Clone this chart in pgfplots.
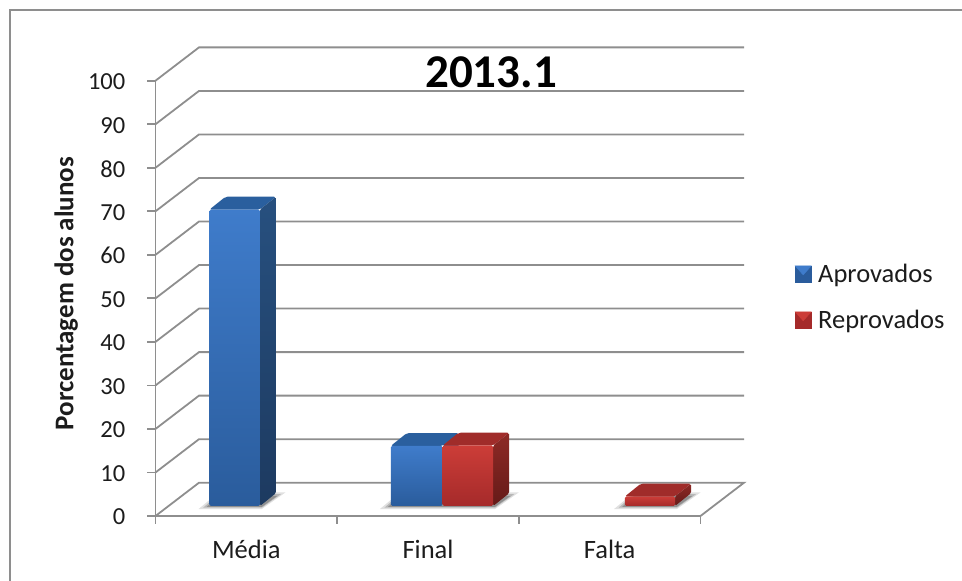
\documentclass[border=0pt]{standalone}
\usepackage{pgfplots}
\pgfplotsset{compat=1.18}
\usepackage{fontspec}
\setmainfont{Carlito}
\definecolor{gridgray}{HTML}{8E8E8E}
\definecolor{txt}{HTML}{1C1C1C}
\definecolor{bft}{HTML}{3F7CCB}\definecolor{bfb}{HTML}{2A5C9C}
\definecolor{bst}{HTML}{27507F}\definecolor{bsb}{HTML}{1D3A60}
\definecolor{btp}{HTML}{2A5F9E}
\definecolor{rft}{HTML}{CC3D38}\definecolor{rfb}{HTML}{A52A2A}
\definecolor{rst}{HTML}{8E2A26}\definecolor{rsb}{HTML}{651A18}
\definecolor{rtp}{HTML}{A02C2A}
% bar: left, right, value, front top, front bottom, side top, side bottom, top
\newcommand{\threedbar}[8]{%
  \pgfmathsetmacro{\yb}{2.3}%
  \pgfmathsetmacro{\yt}{2.3+#3}%
  \pgfmathsetmacro{\xc}{#2+0.088}%
  \pgfmathsetmacro{\xd}{#1+0.088}%
  \pgfmathsetmacro{\ybb}{\yb+2.94}%
  \pgfmathsetmacro{\ytb}{\yt+2.94}%
  \addplot[draw=none,fill=#8,rounded corners=2pt,forget plot] coordinates {(#1,\yt) (#2,\yt) (\xc,\ytb) (\xd,\ytb)} --cycle;
  \addplot[draw=none,top color=#6,bottom color=#7,rounded corners=1.5pt,forget plot] coordinates {(#2,\yb) (\xc,\ybb) (\xc,\ytb) (#2,\yt)} --cycle;
  \addplot[draw=none,top color=#4,bottom color=#5,rounded corners=1.5pt,forget plot] coordinates {(#1,\yb) (#2,\yb) (#2,\yt) (#1,\yt)} --cycle;
}
% soft floor shadow under a bar
\newcommand{\floorshadow}[2]{%
  \pgfmathsetmacro{\sa}{#1-0.06}\pgfmathsetmacro{\sb}{#2+0.01}%
  \pgfmathsetmacro{\sc}{#2+0.14}\pgfmathsetmacro{\sd}{#1+0.05}%
  \addplot[draw=none,fill=black,fill opacity=0.12,forget plot] coordinates {(\sa,1.6) (\sb,1.6) (\sc,5.4) (\sd,5.4)} --cycle;
  \pgfmathsetmacro{\sa}{#1-0.035}\pgfmathsetmacro{\sc}{#2+0.115}%
  \addplot[draw=none,fill=black,fill opacity=0.18,forget plot] coordinates {(\sa,1.9) (\sb,1.9) (\sc,5.0) (\sd,5.0)} --cycle;
  \pgfmathsetmacro{\sa}{#1-0.015}\pgfmathsetmacro{\sc}{#2+0.095}%
  \addplot[draw=none,fill=black,fill opacity=0.22,forget plot] coordinates {(\sa,2.1) (\sb,2.1) (\sc,4.6) (\sd,4.6)} --cycle;
}
\begin{document}
\begin{tikzpicture}[x=1pt,y=1pt]
\path[use as bounding box] (0,0) rectangle (962,581);
\draw[gridgray,line width=2pt] (10,-2) -- (10,570.5) -- (964,570.5);
\begin{axis}[
  at={(155.5pt,65pt)},anchor=south west,scale only axis,
  width=545pt,height=435.3pt,
  xmin=0,xmax=3,ymin=0,ymax=100,clip=false,
  axis x line=bottom,axis y line=left,
  axis line style={gridgray,line width=1.8pt,-},
  tick style={gridgray,line width=1.8pt},
  tick align=outside,major tick length=8pt,
  xtick={0,1,2,3},x tick label as interval,
  xticklabels={Média,Final,Falta},
  ytick={0,10,...,100},
  /pgf/number format/assume math mode=true,
  yticklabel style={font=\fontsize{24.5}{26}\selectfont,text=txt,inner sep=0pt,xshift=-22pt,yshift=-1pt},
  xticklabel style={font=\fontsize{26.5}{28}\selectfont,text=txt,yshift=-13pt},
  ylabel={\textbf{Porcentagem dos alunos}},
  every axis y label/.style={at={(axis description cs:-0.164,0.511)},rotate=90,anchor=center,
     font=\fontsize{27}{29}\selectfont,text=txt},
  legend style={at={(1.173,0.584)},anchor=north west,draw=none,fill=none,
     font=\fontsize{26.5}{28}\selectfont,text=txt,row sep=22pt,inner sep=0pt,
     /tikz/every even column/.append style={column sep=0pt}},
  legend cell align=left,
]
% walls and gridlines
\pgfplotsinvokeforeach{10,20,...,100}{
  \pgfmathsetmacro{\gy}{#1+7.65}
  \addplot[gridgray,line width=1.8pt,forget plot] coordinates {(0,#1) (0.2395,\gy) (3.2395,\gy)};
}
\addplot[gridgray,line width=1.8pt,forget plot] coordinates {(0,0) (0.2395,7.65) (3.2395,7.65) (3,0)};
% bars
\floorshadow{0.297}{0.575}
\threedbar{0.297}{0.575}{68.1}{bft}{bfb}{bst}{bsb}{btp}
\floorshadow{1.295}{1.859}
\threedbar{1.295}{1.581}{13.8}{bft}{bfb}{bst}{bsb}{btp}
\threedbar{1.581}{1.859}{13.9}{rft}{rfb}{rst}{rsb}{rtp}
\floorshadow{2.584}{2.860}
\threedbar{2.584}{2.860}{2.2}{rft}{rfb}{rst}{rsb}{rtp}
% legend
\addlegendimage{legend image code/.code={
  \fill[bfb] (0pt,-8pt) rectangle (16pt,8pt);
  \fill[bft] (0pt,8pt) -- (16pt,8pt) -- (8pt,-1pt) -- cycle;
  \path[draw=none,fill=none] (16pt,0) -- (21pt,0);}}
\addlegendentry{Aprovados}
\addlegendimage{legend image code/.code={
  \fill[rfb] (0pt,-8pt) rectangle (16pt,8pt);
  \fill[rft] (0pt,8pt) -- (16pt,8pt) -- (8pt,-1pt) -- cycle;
  \path[draw=none,fill=none] (16pt,0) -- (21pt,0);}}
\addlegendentry{Reprovados}
\node[font=\bfseries\fontsize{47}{50}\selectfont,text=black] at (axis description cs:0.6156,1.02) {2013.1};
\end{axis}
\end{tikzpicture}
\end{document}
